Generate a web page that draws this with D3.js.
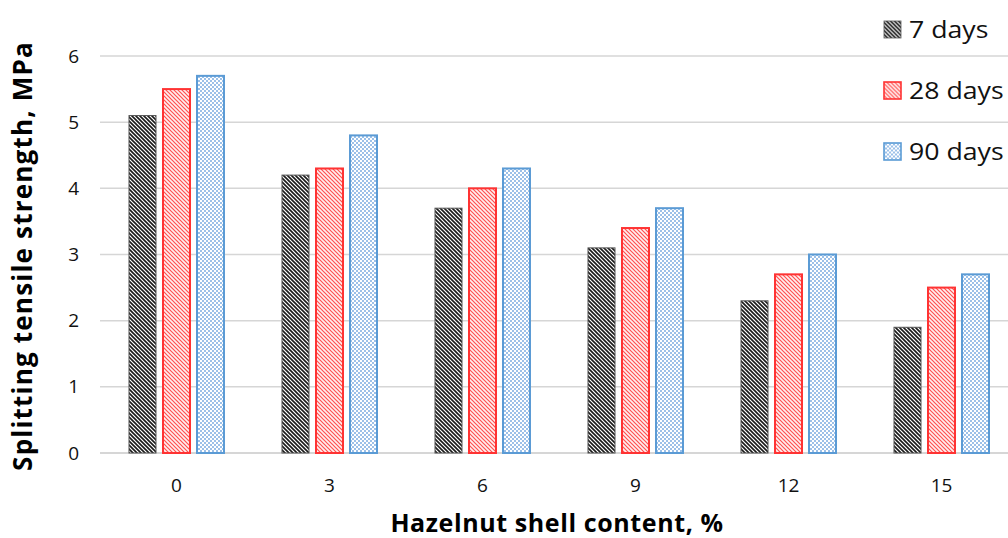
<!DOCTYPE html>
<html>
<head>
<meta charset="utf-8">
<script src="https://cdn.jsdelivr.net/npm/d3@7"></script>
<style>
  body { margin: 0; background: #fff; }
  svg { display: block; font-family: "Open Sans", Lato, sans-serif; }
</style>
</head>
<body>
<div id="chart"></div>
<script>
// data
var contents = ["0", "3", "6", "9", "12", "15"];
var seriesNames = ["7 days", "28 days", "90 days"];
var days7 = [5.1, 4.2, 3.7, 3.1, 2.3, 1.9];
var days28 = [5.5, 4.3, 4.0, 3.4, 2.7, 2.5];
var days90 = [5.7, 4.8, 4.3, 3.7, 3.0, 2.7];
var yTicks = [0, 1, 2, 3, 4, 5, 6];

var series = [days7, days28, days90];

var width = 1008, height = 538;
var margin = {left: 100, right: -10, top: 56, bottom: 85};

var svg = d3.select("#chart").append("svg")
  .attr("width", width)
  .attr("height", height);

// fill patterns
var defs = svg.append("defs");

var p1 = defs.append("pattern").attr("id", "pat7")
  .attr("patternUnits", "userSpaceOnUse").attr("width", 4).attr("height", 4);
p1.append("rect").attr("width", 4).attr("height", 4).attr("fill", "#fff");
p1.append("path").attr("d", "M-1,3 l2,2 M0,0 l4,4 M3,-1 l2,2")
  .attr("stroke", "#1a1a1a").attr("stroke-width", 1.6);

var p2 = defs.append("pattern").attr("id", "pat28")
  .attr("patternUnits", "userSpaceOnUse").attr("width", 4).attr("height", 4);
p2.append("rect").attr("width", 4).attr("height", 4).attr("fill", "#fff0f0");
p2.append("path").attr("d", "M-1,3 l2,2 M0,0 l4,4 M3,-1 l2,2")
  .attr("stroke", "#ff5050").attr("stroke-width", 1.2);

var p3 = defs.append("pattern").attr("id", "pat90")
  .attr("patternUnits", "userSpaceOnUse").attr("width", 4).attr("height", 4);
p3.append("rect").attr("width", 4).attr("height", 4).attr("fill", "#9cc0e8");
p3.append("rect").attr("x", 0).attr("y", 0).attr("width", 2).attr("height", 2).attr("fill", "#fff");
p3.append("rect").attr("x", 2).attr("y", 2).attr("width", 2).attr("height", 2).attr("fill", "#fff");

var fills = ["url(#pat7)", "url(#pat28)", "url(#pat90)"];
var strokes = ["#555555", "#ff3333", "#5b9bd5"];
var strokeW = [1, 2, 2];

var x = d3.scaleBand()
  .domain(contents)
  .range([margin.left, width - margin.right])
  .paddingInner(0)
  .paddingOuter(0);

var y = d3.scaleLinear()
  .domain([0, 6])
  .range([height - margin.bottom, margin.top]);

// bars within a group: width 27, step 34
var x1 = d3.scaleBand()
  .domain(d3.range(series.length))
  .range([x.bandwidth() / 2 - 47.5, x.bandwidth() / 2 + 47.5])
  .paddingInner(0.206);

// gridlines
svg.append("g")
  .selectAll("line")
  .data(yTicks)
  .join("line")
  .attr("x1", margin.left)
  .attr("x2", width)
  .attr("y1", function(d) { return y(d); })
  .attr("y2", function(d) { return y(d); })
  .attr("stroke", "#d6d6d6")
  .attr("stroke-width", function(d) { return d === 0 ? 2 : 1.5; });

// bars
series.forEach(function(vals, s) {
  svg.append("g")
    .selectAll("rect")
    .data(vals)
    .join("rect")
    .attr("x", function(d, i) { return x(contents[i]) + x1(s); })
    .attr("y", function(d) { return y(d); })
    .attr("width", x1.bandwidth())
    .attr("height", function(d) { return y(0) - y(d); })
    .attr("fill", fills[s])
    .attr("stroke", strokes[s])
    .attr("stroke-width", strokeW[s]);
});

// y tick labels
svg.append("g")
  .selectAll("text")
  .data(yTicks)
  .join("text")
  .attr("x", 79)
  .attr("y", function(d) { return y(d); })
  .attr("dy", "0.35em")
  .attr("text-anchor", "end")
  .attr("font-size", 19)
  .attr("fill", "#111")
  .text(function(d) { return d; });

// x tick labels
svg.append("g")
  .selectAll("text")
  .data(contents)
  .join("text")
  .attr("x", function(d) { return x(d) + x.bandwidth() / 2; })
  .attr("y", 492)
  .attr("text-anchor", "middle")
  .attr("font-size", 19)
  .attr("fill", "#111")
  .text(function(d) { return d; });

// axis titles
svg.append("text")
  .attr("x", 557)
  .attr("y", 532)
  .attr("text-anchor", "middle")
  .attr("font-size", 25)
  .attr("font-weight", "bold")
  .attr("letter-spacing", 0.6)
  .text("Hazelnut shell content, %");

svg.append("text")
  .attr("transform", "translate(32,256) rotate(-90)")
  .attr("text-anchor", "middle")
  .attr("font-size", 26)
  .attr("font-weight", "bold")
  .attr("letter-spacing", 1.2)
  .text("Splitting tensile strength, MPa");

// legend
var legend = svg.append("g")
  .selectAll("g")
  .data(seriesNames)
  .join("g")
  .attr("transform", function(d, i) { return "translate(883," + (29.5 + i * 61) + ")"; });

legend.append("rect")
  .attr("x", 1).attr("y", -8.5)
  .attr("width", 17).attr("height", 17)
  .attr("fill", function(d, i) { return fills[i]; })
  .attr("stroke", function(d, i) { return strokes[i]; })
  .attr("stroke-width", function(d, i) { return strokeW[i] * 0.8; });

legend.append("text")
  .attr("transform", "translate(26,0) scale(1.16,1)")
  .attr("dy", "0.36em")
  .attr("font-size", 23)
  .attr("fill", "#111")
  .text(function(d) { return d; });
</script>
</body>
</html>
